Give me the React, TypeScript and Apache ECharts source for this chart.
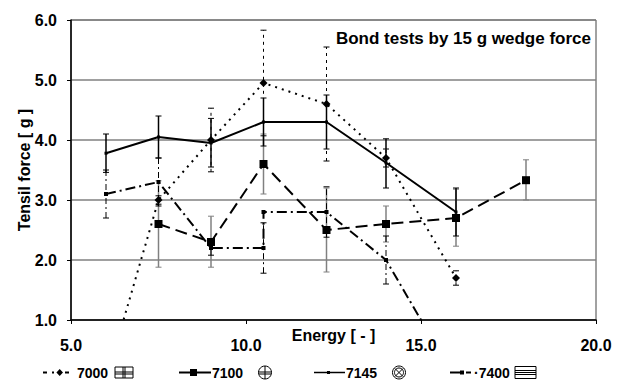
import React, { useEffect, useRef } from "react";
import * as echarts from "echarts";

// ---- data ----
const x7000 = [6, 7.5, 9, 10.5, 12.3, 14, 16];
const y7000 = [0.0, 3.0, 4.0, 4.95, 4.6, 3.7, 1.7];
const x7100 = [7.5, 9, 10.5, 12.3, 14, 16, 18];
const y7100 = [2.6, 2.3, 3.6, 2.5, 2.6, 2.7, 3.33];
const x7145 = [6, 7.5, 9, 10.5, 12.3, 14, 16];
const y7145 = [3.78, 4.05, 3.95, 4.3, 4.3, 3.62, 2.8];
const x7400 = [6, 7.5, 9, 10.5, 10.5, 12.3, 14, 16];
const y7400 = [3.1, 3.3, 2.2, 2.2, 2.8, 2.8, 2.0, 0.0];

// error bars: [x, low, high]
const err7000 = [[7.5, 2.93, 3.07], [9, 3.47, 4.53], [10.5, 4.07, 5.83], [12.3, 3.65, 5.55], [14, 3.55, 3.85], [16, 1.58, 1.82]];
const err7100 = [[7.5, 1.88, 3.32], [9, 1.88, 2.73], [10.5, 3.1, 4.1], [12.3, 1.8, 3.2], [14, 2.3, 2.9], [16, 2.23, 3.18], [18, 3.0, 3.67]];
const err7145 = [[6, 3.46, 4.1], [7.5, 3.7, 4.4], [9, 3.55, 4.36], [10.5, 3.9, 4.7], [12.3, 3.85, 4.75], [14, 3.2, 4.02], [16, 2.4, 3.2]];
const err7400 = [[6, 2.7, 3.5], [7.5, 2.9, 3.7], [9, 2.08, 2.32], [10.5, 1.78, 2.62], [12.3, 2.38, 3.22], [14, 1.6, 2.4]];

const seriesNames = ["7000", "7100", "7145", "7400"];
const titleText = "Bond tests by 15 g wedge force";
const xName = "Energy [ - ]";
const yName = "Tensil force [ g ]";

const FONT = "Liberation Sans, Arial, sans-serif";

function pairs(xs: number[], ys: number[]) {
  return xs.map((x, i) => [x, ys[i]]);
}

function errSeries(data: number[][], color: string, width: number, dash: number[] | null) {
  return {
    type: "custom",
    silent: true,
    z: 1,
    data,
    encode: { x: 0, y: [1, 2] },
    renderItem: (params: any, api: any) => {
      const x = api.value(0);
      const lo = api.coord([x, api.value(1)]);
      const hi = api.coord([x, api.value(2)]);
      const style: any = { stroke: color, lineWidth: width };
      if (dash) style.lineDash = dash;
      const cap = { stroke: color, lineWidth: 1 };
      return {
        type: "group",
        children: [
          { type: "line", shape: { x1: lo[0], y1: lo[1], x2: hi[0], y2: hi[1] }, style },
          { type: "line", shape: { x1: lo[0] - 3, y1: lo[1], x2: lo[0] + 3, y2: lo[1] }, style: cap },
          { type: "line", shape: { x1: hi[0] - 3, y1: hi[1], x2: hi[0] + 3, y2: hi[1] }, style: cap },
        ],
      };
    },
  };
}

function legendGraphics() {
  const y = 372.5;
  const txt = (x: number, s: string) => ({
    type: "text",
    x,
    y,
    style: { text: s, font: "bold 14px " + FONT, fill: "#000", verticalAlign: "middle", textAlign: "left" },
  });
  const ln = (x1: number, x2: number, w = 2) => ({
    type: "line",
    shape: { x1, y1: y, x2, y2: y },
    style: { stroke: "#000", lineWidth: w },
  });
  const thin = { stroke: "#000", lineWidth: 1, fill: "none" };
  return [
    // 7000
    ln(43, 47),
    { type: "polygon", shape: { points: [[59.7, y - 3.5], [63, y], [59.7, y + 3.5], [56.4, y]] }, style: { fill: "#000" } },
    ln(52, 54),
    ln(65, 69),
    txt(77, seriesNames[0]),
    { type: "rect", shape: { x: 115, y: y - 5.5, width: 18, height: 11 }, style: thin },
    { type: "line", shape: { x1: 123, y1: y - 5.5, x2: 123, y2: y + 5.5 }, style: thin },
    { type: "line", shape: { x1: 125, y1: y - 5.5, x2: 125, y2: y + 5.5 }, style: thin },
    { type: "line", shape: { x1: 115, y1: y - 0.5, x2: 133, y2: y - 0.5 }, style: thin },
    { type: "line", shape: { x1: 115, y1: y + 1.5, x2: 133, y2: y + 1.5 }, style: thin },
    // 7100
    ln(179, 211),
    { type: "rect", shape: { x: 190, y: y - 3.5, width: 7, height: 7 }, style: { fill: "#000" } },
    txt(212, seriesNames[1]),
    { type: "circle", shape: { cx: 265, cy: y, r: 6.5 }, style: thin },
    { type: "line", shape: { x1: 265, y1: y - 6.5, x2: 265, y2: y + 6.5 }, style: thin },
    { type: "line", shape: { x1: 258.5, y1: y - 0.5, x2: 271.5, y2: y - 0.5 }, style: thin },
    { type: "line", shape: { x1: 259, y1: y + 1.5, x2: 271, y2: y + 1.5 }, style: thin },
    // 7145
    ln(314, 345, 1.5),
    { type: "rect", shape: { x: 327, y: y - 1.5, width: 3, height: 3 }, style: { fill: "#000" } },
    txt(346, seriesNames[2]),
    { type: "circle", shape: { cx: 399, cy: y, r: 6.5 }, style: thin },
    { type: "circle", shape: { cx: 399, cy: y, r: 4.5 }, style: thin },
    { type: "line", shape: { x1: 395, y1: y - 4, x2: 403, y2: y + 4 }, style: thin },
    { type: "line", shape: { x1: 395, y1: y + 4, x2: 403, y2: y - 4 }, style: thin },
    // 7400
    ln(450, 460),
    { type: "rect", shape: { x: 460, y: y - 2, width: 4, height: 4 }, style: { fill: "#000" } },
    ln(466, 471),
    txt(474, "\u00b7" + seriesNames[3]),
    { type: "rect", shape: { x: 515, y: y - 6, width: 21, height: 12 }, style: thin },
    { type: "line", shape: { x1: 515, y1: y - 2, x2: 536, y2: y - 2 }, style: thin },
    { type: "line", shape: { x1: 515, y1: y, x2: 536, y2: y }, style: thin },
    { type: "line", shape: { x1: 515, y1: y + 2, x2: 536, y2: y + 2 }, style: thin },
  ];
}

export default function App() {
  const ref = useRef<HTMLDivElement>(null);
  useEffect(() => {
    if (!ref.current) return;
    const chart = echarts.init(ref.current, undefined, { renderer: "svg" });
    const axisLabel = { color: "#000", fontWeight: "bold", fontSize: 16, fontFamily: FONT };
    chart.setOption({
      animation: false,
      backgroundColor: "#fff",
      grid: { left: 71, right: 30, top: 20, bottom: 61, show: true, borderColor: "#444", borderWidth: 1, backgroundColor: "transparent" },
      xAxis: {
        type: "value",
        min: 5,
        max: 20,
        interval: 5,
        name: xName,
        nameLocation: "middle",
        nameGap: 7,
        nameMoveOverlap: false,
        nameTextStyle: { color: "#000", fontWeight: "bold", fontSize: 16, fontFamily: FONT, verticalAlign: "top" },
        axisLine: { onZero: false, lineStyle: { color: "#000", width: 1.5 } },
        axisTick: { show: true, length: 4, inside: false, lineStyle: { color: "#000" } },
        axisLabel: { ...axisLabel, margin: 17, formatter: (v: number) => v.toFixed(1) },
        splitLine: { show: false },
      },
      yAxis: {
        type: "value",
        min: 1,
        max: 6,
        interval: 1,
        name: yName,
        nameLocation: "middle",
        nameGap: 39,
        nameMoveOverlap: false,
        nameTextStyle: { color: "#000", fontWeight: "bold", fontSize: 16, fontFamily: FONT },
        axisLine: { show: true, onZero: false, lineStyle: { color: "#000", width: 1.5 } },
        axisTick: { show: true, length: 4, lineStyle: { color: "#000" } },
        axisLabel: { ...axisLabel, margin: 14, formatter: (v: number) => v.toFixed(1) },
        splitLine: { show: true, lineStyle: { color: "#808080", width: 1.5 } },
      },
      graphic: [
        {
          type: "text",
          right: 35,
          top: 30,
          style: { text: titleText, font: "bold 17px " + FONT, fill: "#000" },
        },
        ...legendGraphics(),
      ],
      series: [
        errSeries(err7100, "#808080", 1.5, null),
        errSeries(err7000, "#000", 1, [3, 4]),
        errSeries(err7145, "#000", 1.5, null),
        errSeries(err7400, "#000", 1, [6, 3, 2, 3]),
        {
          name: seriesNames[0],
          type: "line",
          data: pairs(x7000, y7000),
          symbol: "diamond",
          symbolSize: 8,
          itemStyle: { color: "#000" },
          lineStyle: { color: "#000", width: 2, type: [2, 5] },
          z: 3,
        },
        {
          name: seriesNames[1],
          type: "line",
          data: pairs(x7100, y7100),
          symbol: "rect",
          symbolSize: 8,
          itemStyle: { color: "#000" },
          lineStyle: { color: "#000", width: 2, type: [12, 6] },
          z: 3,
        },
        {
          name: seriesNames[2],
          type: "line",
          data: pairs(x7145, y7145),
          symbol: "rect",
          symbolSize: 3,
          itemStyle: { color: "#000" },
          lineStyle: { color: "#000", width: 2 },
          z: 3,
        },
        {
          name: seriesNames[3],
          type: "line",
          data: pairs(x7400, y7400),
          symbol: "rect",
          symbolSize: 4,
          itemStyle: { color: "#000" },
          lineStyle: { color: "#000", width: 2, type: [10, 4, 2, 4] },
          z: 3,
        },
      ],
    });
    return () => chart.dispose();
  }, []);
  return <div ref={ref} style={{ width: 626, height: 381, position: "absolute", left: 0, top: 0 }} />;
}
